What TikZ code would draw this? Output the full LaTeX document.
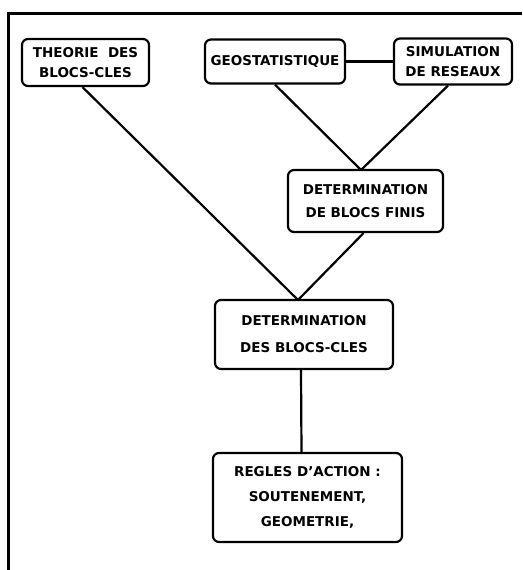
\documentclass[tikz,border=0pt]{standalone}
\usepackage{fontspec}
\setmainfont{DejaVu Sans}
\usetikzlibrary{positioning}

\begin{document}
\begin{tikzpicture}[
  x=1pt, y=-1pt,
  font=\fontsize{13.5}{20}\selectfont\bfseries, line width=2.2pt,
  block/.style={rectangle, draw=black, rounded corners=6pt, align=center, inner sep=0pt}
]
\useasboundingbox (0,0) rectangle (522,570);

% cadre
\draw[line width=3pt] (8,570) -- (8,13) -- (522,13);

\node[block, minimum width=127pt, minimum height=47pt] (theorie) at (85.5,62.5) {THEORIE~~DES\\BLOCS-CLES};
\node[block, minimum width=140pt, minimum height=44pt] (geostat) at (275,61.5) {GEOSTATISTIQUE};
\node[block, minimum width=118pt, minimum height=46pt] (simul) at (453,61.5) {SIMULATION\\DE~RESEAUX};
\node[block, minimum width=155pt, minimum height=62pt] (blocsfinis) at (365.5,201) {DETERMINATION\\[3pt]DE BLOCS FINIS};
\node[block, minimum width=178pt, minimum height=69pt] (blocscles) at (304,334.5) {DETERMINATION\\[7pt]DES~BLOCS-CLES};
\node[block, minimum width=189pt, minimum height=89pt] (regles) at (307.5,497.5) {REGLES D'ACTION :\\[5pt]SOUTENEMENT,\\[5pt]GEOMETRIE,};

\coordinate (topfinis) at (361,170);
\coordinate (topcles) at (298,300);

\draw (geostat.east) -- (simul.west);
\draw (geostat.south) -- (topfinis);
\draw ([xshift=-5pt]simul.south) -- (topfinis);
\draw ([xshift=-3pt]theorie.south) -- (topcles);
\draw ([xshift=-2pt]blocsfinis.south) -- (topcles);
\draw ([xshift=-3pt]blocscles.south) -- ([xshift=-6pt]regles.north);
\end{tikzpicture}
\end{document}
